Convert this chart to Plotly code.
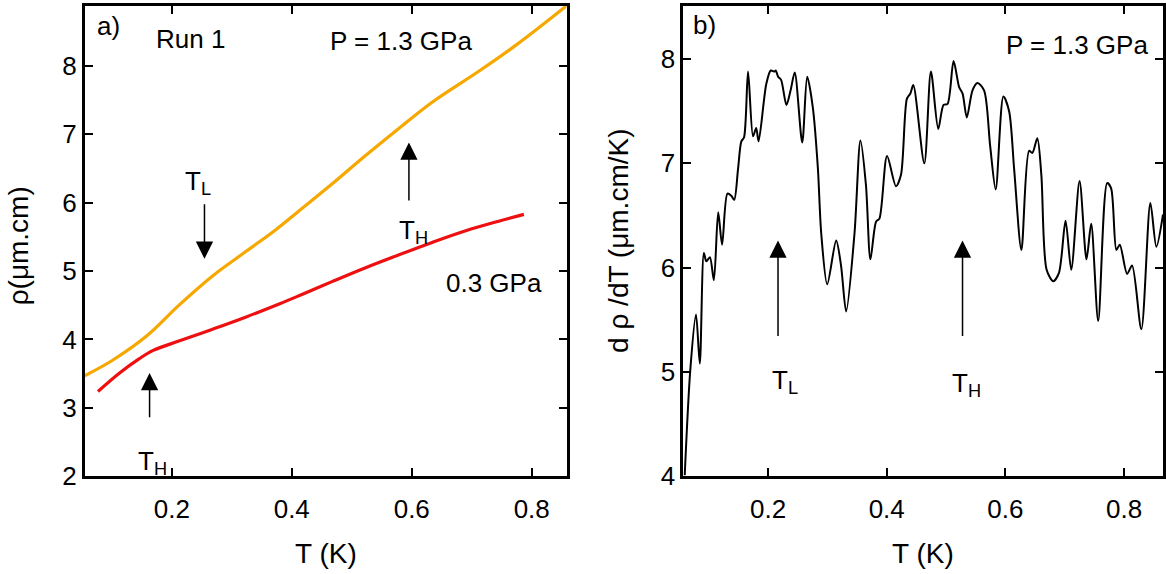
import plotly.graph_objects as go

# ---- data ----
T_13 = [0.055, 0.102, 0.158, 0.213, 0.268, 0.324, 0.374, 0.412, 0.468, 0.523, 0.579, 0.634, 0.713, 0.776, 0.858]
rho_13 = [3.47, 3.70, 4.05, 4.51, 4.93, 5.29, 5.61, 5.88, 6.28, 6.69, 7.09, 7.47, 7.93, 8.32, 8.88]

T_03 = [0.077, 0.113, 0.146, 0.169, 0.213, 0.268, 0.324, 0.379, 0.412, 0.468, 0.523, 0.579, 0.634, 0.690, 0.745, 0.787]
rho_03 = [3.24, 3.51, 3.72, 3.84, 3.98, 4.15, 4.33, 4.52, 4.64, 4.85, 5.05, 5.24, 5.42, 5.59, 5.73, 5.83]

T_d = [0.0596, 0.069, 0.0786, 0.085, 0.0919, 0.096, 0.102, 0.1087, 0.116, 0.1226, 0.1316, 0.138, 0.143,
       0.1495, 0.155, 0.1596, 0.1663, 0.1747, 0.180, 0.184, 0.197, 0.2045, 0.211, 0.213, 0.217, 0.222,
       0.231, 0.238, 0.245, 0.2576, 0.266, 0.2756, 0.284, 0.2896, 0.2997, 0.3148, 0.323, 0.3316, 0.3457,
       0.3557, 0.365, 0.3725, 0.382, 0.3877, 0.4005, 0.4156, 0.424, 0.434, 0.4398, 0.4448, 0.4633, 0.4744,
       0.4868, 0.4957, 0.5025, 0.5126, 0.522, 0.5277, 0.5349, 0.5445, 0.5529, 0.564, 0.5742, 0.5836,
       0.5966, 0.6062, 0.6146, 0.6269, 0.6398, 0.6454, 0.6537, 0.6605, 0.6694, 0.6806, 0.6902, 0.7013,
       0.7109, 0.7249, 0.7366, 0.7445, 0.7563, 0.7714, 0.7781, 0.787, 0.7927, 0.805, 0.8134, 0.829,
       0.8442, 0.8543, 0.8655]
drho_d = [4.01, 5.02, 5.55, 5.08, 6.14, 6.06, 6.10, 5.88, 6.53, 6.22, 6.71, 6.69, 6.65,
          6.95, 7.21, 7.25, 7.88, 7.26, 7.34, 7.21, 7.76, 7.89, 7.88, 7.89, 7.83, 7.80,
          7.56, 7.70, 7.87, 7.20, 7.83, 7.53, 6.95, 6.33, 5.84, 6.26, 6.02, 5.58, 6.33,
          7.22, 6.79, 6.08, 6.44, 6.47, 7.07, 6.78, 6.89, 7.62, 7.67, 7.75, 7.00, 7.88,
          7.33, 7.56, 7.57, 7.98, 7.73, 7.67, 7.44, 7.70, 7.77, 7.70, 7.17, 6.75,
          7.64, 7.50, 6.95, 6.17, 7.12, 7.10, 7.24, 6.89, 5.98, 5.87, 5.95, 6.45,
          5.98, 6.83, 6.08, 6.42, 5.49, 6.81, 6.76, 6.17, 6.22, 5.94, 6.02, 5.41,
          6.62, 6.20, 6.51]

x_ticks = [0.2, 0.4, 0.6, 0.8]
x_ticklabels = ["0.2", "0.4", "0.6", "0.8"]
yL_ticks = [2, 3, 4, 5, 6, 7, 8]
yR_ticks = [4, 5, 6, 7, 8]

FONT = "Liberation Sans, Arial, sans-serif"
FS = 26
FS_TITLE = 28

fig = go.Figure()
fig.add_trace(go.Scatter(x=T_13, y=rho_13, mode="lines", line=dict(color="#F7A800", width=3.2, shape="spline", smoothing=1.0),
                         xaxis="x", yaxis="y", showlegend=False))
fig.add_trace(go.Scatter(x=T_03, y=rho_03, mode="lines", line=dict(color="#EE1010", width=3.2, shape="spline", smoothing=1.0),
                         xaxis="x", yaxis="y", showlegend=False))
fig.add_trace(go.Scatter(x=T_d, y=drho_d, mode="lines", line=dict(color="black", width=2, shape="spline", smoothing=0.8),
                         xaxis="x2", yaxis="y2", showlegend=False))

axis_common = dict(showline=True, linecolor="black", linewidth=2.5, mirror="ticks", ticks="inside",
                   ticklen=8, tickwidth=2, tickcolor="black", showgrid=False, zeroline=False,
                   tickfont=dict(family=FONT, size=FS, color="black"))

ydom = [85 / 574, 568 / 574]
fig.update_layout(
    width=1166, height=574, margin=dict(l=0, r=0, t=0, b=0),
    paper_bgcolor="white", plot_bgcolor="white",
    font=dict(family=FONT, size=FS, color="black"),
    xaxis=dict(domain=[85 / 1166, 568 / 1166], range=[0.055, 0.858], tickvals=x_ticks, ticktext=x_ticklabels,
               anchor="y", ticklabelstandoff=8, **axis_common),
    yaxis=dict(domain=ydom, range=[2, 8.88], tickvals=yL_ticks, anchor="x", **axis_common),
    xaxis2=dict(domain=[685 / 1166, 1.0], range=[0.0571, 0.8655], tickvals=x_ticks, ticktext=x_ticklabels,
                anchor="y2", ticklabelstandoff=8, **axis_common),
    yaxis2=dict(domain=ydom, range=[4, 8.51], tickvals=yR_ticks, anchor="x2", **axis_common),
)

anns = []
def txt(x, y, s, xref="x", yref="y", xanchor="left", yanchor="middle", angle=0, size=FS):
    anns.append(dict(x=x, y=y, text=s, xref=xref, yref=yref, xanchor=xanchor, yanchor=yanchor,
                     showarrow=False, textangle=angle, borderpad=0,
                     font=dict(family=FONT, size=size, color="black")))

def arrow(x, y_tip, y_tail, xref="x", yref="y"):
    anns.append(dict(x=x, y=y_tip, ax=x, ay=y_tail, xref=xref, yref=yref, axref=xref, ayref=yref,
                     text="", showarrow=True, arrowhead=2, arrowsize=2.3, arrowwidth=1.5, arrowcolor="black"))

# left panel
txt(0.073, 8.58, "a)")
txt(0.1714, 8.40, "Run 1")
txt(0.462, 8.37, "P = 1.3 GPa")
txt(0.655, 4.82, "0.3 GPa")
txt(0.2445, 6.30, "T<sub>L</sub>", xanchor="center")
arrow(0.2545, 5.18, 6.0)
txt(0.6036, 5.58, "T<sub>H</sub>", xanchor="center")
arrow(0.5953, 6.88, 6.01)
txt(0.168, 2.20, "T<sub>H</sub>", xanchor="center")
arrow(0.163, 3.51, 2.84)

# right panel
txt(0.072, 8.33, "b)", xref="x2", yref="y2")
txt(0.842, 8.13, "P = 1.3 GPa", xref="x2", yref="y2", xanchor="right")
arrow(0.2168, 6.26, 5.33, xref="x2", yref="y2")
txt(0.2285, 4.91, "T<sub>L</sub>", xref="x2", yref="y2", xanchor="center")
arrow(0.5277, 6.26, 5.33, xref="x2", yref="y2")
txt(0.534, 4.88, "T<sub>H</sub>", xref="x2", yref="y2", xanchor="center")

# axis titles
txt(326.5 / 1166, 6 / 574, "T (K)", xref="paper", yref="paper", xanchor="center", size=FS_TITLE)
txt(925.5 / 1166, 6 / 574, "T (K)", xref="paper", yref="paper", xanchor="center", size=FS_TITLE)
txt(18 / 1166, (574 - 252) / 574, "ρ(μm.cm)", xref="paper", yref="paper", xanchor="center", angle=-90, size=FS_TITLE)
txt(620 / 1166, (574 - 247) / 574, "d ρ /dT (μm.cm/K)", xref="paper", yref="paper", xanchor="center", angle=-90, size=FS_TITLE)

fig.update_layout(annotations=anns)
fig.write_html("out.html", config={"displayModeBar": False},
               post_script="document.body.style.margin='0';document.body.style.overflow='hidden';")
